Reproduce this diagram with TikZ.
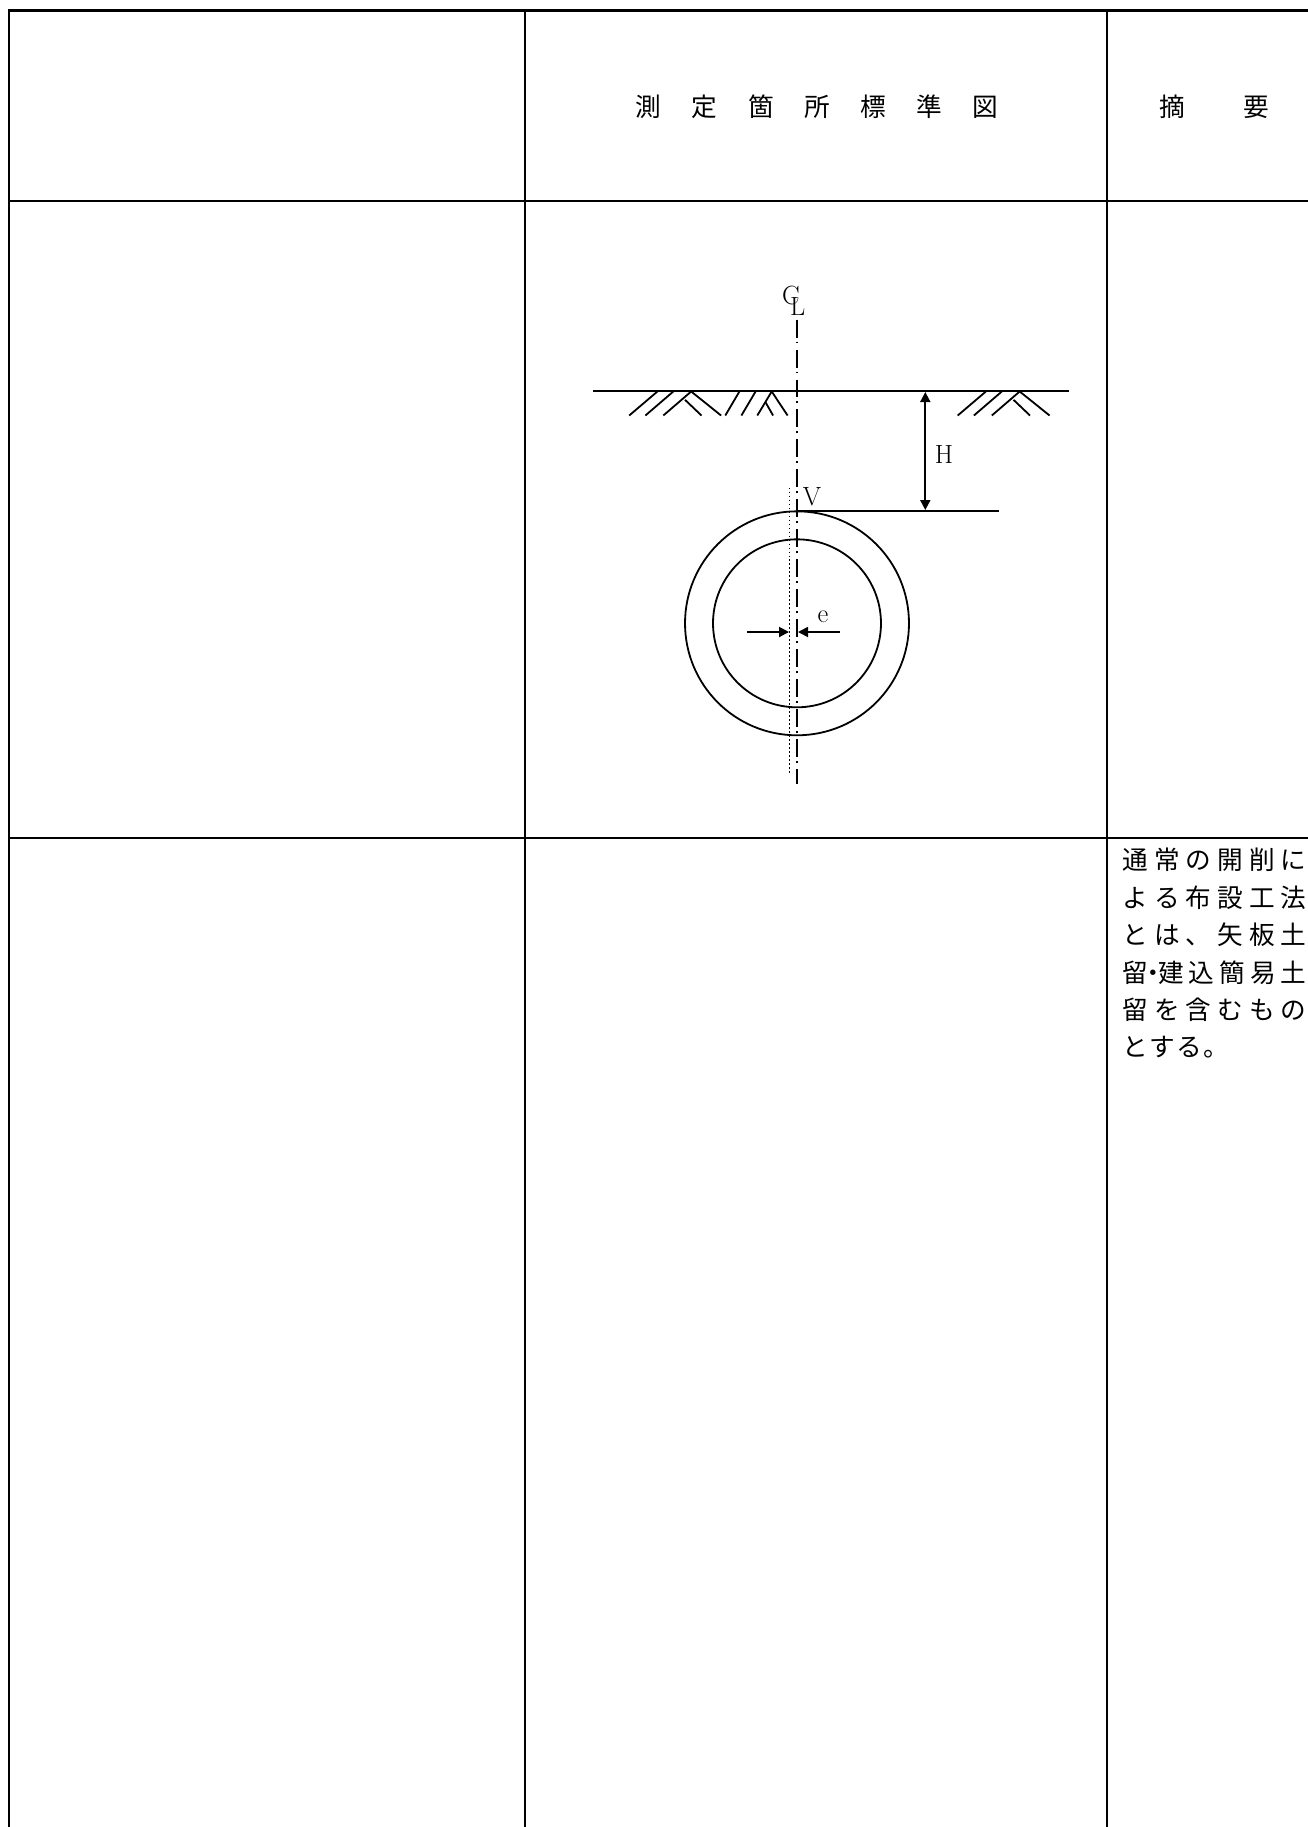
\documentclass[tikz,border=0pt]{standalone}
\usepackage{fontspec}
\newfontfamily\cjk{Noto Sans CJK JP}
\usetikzlibrary{arrows.meta}
\newcommand{\spaced}[2]{\makebox[#1][s]{#2}}
\tikzset{
  grid/.style={line width=0.046cm},
  thin line/.style={line width=0.036cm},
  axis/.style={line width=0.03cm, dash pattern=on 0.36cm off 0.08cm on 0.03cm off 0.13cm},
  offset/.style={line width=0.032cm, dash pattern=on 0.03cm off 0.05cm},
  tip/.style={-{Triangle[length=0.2cm,width=0.2cm]}},
  tiptip/.style={{Triangle[length=0.2cm,width=0.2cm]}-{Triangle[length=0.2cm,width=0.2cm]}},
  head/.style={inner sep=0pt, font=\cjk\fontsize{14.6}{14.6}\selectfont},
  note/.style={head, anchor=west},
  sym/.style={inner sep=0pt, font=\fontsize{15}{15}\selectfont}
}
\begin{document}
\begin{tikzpicture}[x=0.02cm,y=-0.02cm]
\useasboundingbox (0,0) rectangle (1308,1827);
% table
\draw[grid] (9.3,1827)--(9.3,10.5)--(1308,10.5);
\draw[grid] (9.3,201)--(1308,201);
\draw[grid] (9.3,838)--(1308,838);
\draw[grid] (525,10.5)--(525,1827);
\draw[grid] (1107,10.5)--(1107,1827);
\node[head] (title) at (817,107) {\spaced{7.25cm}{測\hfill 定\hfill 箇\hfill 所\hfill 標\hfill 準\hfill 図}};
\node[head] (remark) at (1214,107) {\spaced{2.2cm}{摘\hfill 要}};
\begin{scope}[shift={(1,0.5)}]
% ground
\coordinate (gl) at (592,390.5);
\coordinate (gr) at (1068,390.5);
\draw[thin line] (gl)--(gr);
\foreach \dx in {0,328.5}{
  \draw[thin line] (656.4+\dx,391)--(628.2+\dx,415);
  \draw[thin line] (672.3+\dx,391)--(644.4+\dx,415);
  \draw[thin line] (690.2+\dx,391)--(662.3+\dx,415);
  \draw[thin line] (690.2+\dx,391)--(720.1+\dx,415);
  \draw[thin line] (684+\dx,399.3)--(700.5+\dx,415);
}
\draw[thin line] (738.4,391)--(724.3,415);
\draw[thin line] (754.6,391)--(740.4,415);
\draw[thin line] (770.7,391)--(756.3,415);
\draw[thin line] (770.7,391)--(786.6,415);
\draw[thin line] (764.5,401.7)--(772.1,415);
% pipe
\coordinate (pipe) at (796,622.8);
\coordinate (crown) at (796,510.5);
\draw[thin line] (pipe) circle(2.24cm);
\draw[thin line] (pipe) circle(1.68cm);
\draw[axis] (796,319)--(796,783);
\draw[offset] (788.3,487)--(788.3,773);
% depth
\coordinate (vend) at (998,510.5);
\draw[thin line] (crown)--(vend);
\draw[thin line, tiptip] (924.3,391.5)--(924.3,509.5);
\node[sym] (depth) at (943,454) {H};
\node[sym] (vert) at (811,496) {V};
% eccentricity
\draw[line width=0.04cm, tip] (746,631.5)--(788,631.5);
\draw[thin line, tip] (838.7,631.5)--(797,631.5);
\node[sym] (ecc) at (822,616.5) {e};
% centre line mark
\node[sym] (markc) at (790,295) {C};
\node[sym] (markl) at (796.8,306) {L};
\end{scope}
% remarks
\node[note] (r1) at (1122,860) {\spaced{3.68cm}{通\hfill 常\hfill の\hfill 開\hfill 削\hfill に}};
\node[note] (r2) at (1122,897.5) {\spaced{3.68cm}{よ\hfill る\hfill 布\hfill 設\hfill 工\hfill 法}};
\node[note] (r3) at (1122,935) {\spaced{3.68cm}{と\hfill は\hfill 、\hfill 矢\hfill 板\hfill 土}};
\node[note] (r4) at (1122,972.5) {\spaced{3.68cm}{留\hspace{-0.3em}・\hspace{-0.3em}建\hfill 込\hfill 簡\hfill 易\hfill 土}};
\node[note] (r5) at (1122,1010) {\spaced{3.68cm}{留\hfill を\hfill 含\hfill む\hfill も\hfill の}};
\node[note] (r6) at (1122,1047.5) {\spaced{2.13cm}{と\hfill す\hfill る\hfill 。}};
\end{tikzpicture}
\end{document}
